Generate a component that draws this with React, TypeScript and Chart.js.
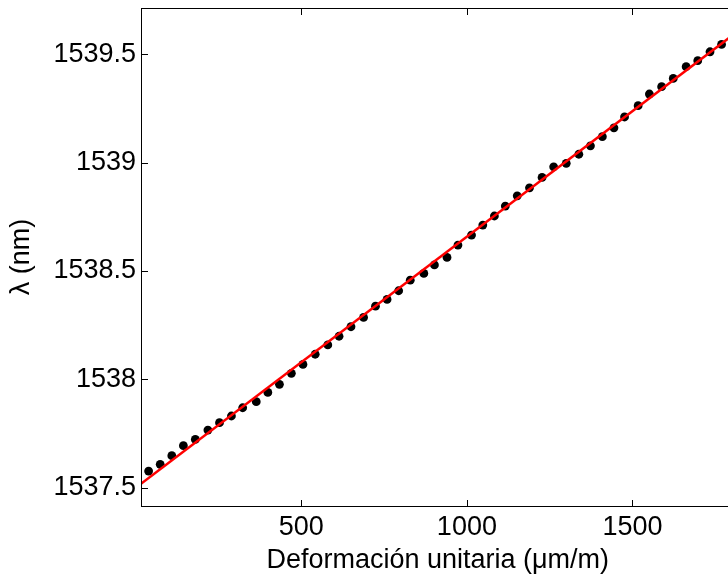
import React, { useEffect, useRef } from "react";
import { Chart, registerables } from "chart.js";

Chart.register(...registerables);

// Measured points: strain (µm/m) vs Bragg wavelength (nm)
const strainX = [39, 74, 109, 144, 180, 218, 253, 289, 323, 364, 399, 434, 470, 505, 542, 580, 614, 650, 688, 724, 759, 794, 829, 870, 902, 940, 973, 1014, 1048, 1083, 1116, 1152, 1189, 1227, 1262, 1300, 1338, 1373, 1409, 1444, 1476, 1517, 1551, 1588, 1623, 1662, 1697, 1734, 1769];
const lambdaY = [1537.577, 1537.608, 1537.648, 1537.694, 1537.723, 1537.766, 1537.8, 1537.831, 1537.869, 1537.897, 1537.94, 1537.977, 1538.028, 1538.069, 1538.116, 1538.159, 1538.199, 1538.243, 1538.286, 1538.338, 1538.369, 1538.409, 1538.458, 1538.489, 1538.528, 1538.563, 1538.62, 1538.666, 1538.712, 1538.754, 1538.8, 1538.847, 1538.884, 1538.932, 1538.981, 1538.997, 1539.039, 1539.078, 1539.12, 1539.161, 1539.211, 1539.263, 1539.317, 1539.351, 1539.389, 1539.443, 1539.471, 1539.512, 1539.546];

// Linear fit endpoints
const fitX = [16, 1808];
const fitY = [1537.518, 1539.595];

// Axes
const xRange = [16, 1808];
const yRange = [1537.4156, 1539.714];
const xTicks = [500, 1000, 1500];
const yTicks = [1537.5, 1538, 1538.5, 1539, 1539.5];

const xTitle = "Deformación unitaria (μm/m)";
const yTitle = "λ (nm)";

const FONT = "'Liberation Sans', Arial, sans-serif";
const CANVAS_W = 760;
const CANVAS_H = 577;

const framePlugin = {
  id: "matlabFrame",
  afterDraw(chart: any) {
    const { ctx, chartArea, scales } = chart;
    const { left, right, top, bottom } = chartArea;
    const tl = 6.5;
    ctx.save();
    ctx.strokeStyle = "#000";
    ctx.lineWidth = 1;
    ctx.strokeRect(left + 0.5, top + 0.5, right - left, bottom - top);
    ctx.beginPath();
    for (const v of xTicks) {
      const px = Math.round(scales.x.getPixelForValue(v)) + 0.5;
      ctx.moveTo(px, bottom + 0.5);
      ctx.lineTo(px, bottom + 0.5 - tl);
      ctx.moveTo(px, top + 0.5);
      ctx.lineTo(px, top + 0.5 + tl);
    }
    for (const v of yTicks) {
      const py = Math.round(scales.y.getPixelForValue(v)) + 0.5;
      ctx.moveTo(left + 0.5, py);
      ctx.lineTo(left + 0.5 + tl, py);
      ctx.moveTo(right + 0.5, py);
      ctx.lineTo(right + 0.5 - tl, py);
    }
    ctx.stroke();
    ctx.restore();
  },
};

export default function App() {
  const canvasRef = useRef<HTMLCanvasElement | null>(null);

  useEffect(() => {
    const canvas = canvasRef.current;
    if (!canvas) return;
    const points = strainX.map((x, i) => ({ x, y: lambdaY[i] }));
    const fit = fitX.map((x, i) => ({ x, y: fitY[i] }));
    const chart = new Chart(canvas, {
      type: "scatter",
      data: {
        datasets: [
          {
            data: fit,
            showLine: true,
            borderColor: "#ff0000",
            borderWidth: 2.5,
            pointRadius: 0,
            fill: false,
            order: 0,
          } as any,
          {
            data: points,
            pointRadius: 4.4,
            pointBackgroundColor: "#000",
            pointBorderColor: "#000",
            pointBorderWidth: 0,
            order: 1,
          } as any,
        ],
      },
      options: {
        animation: false,
        responsive: false,
        maintainAspectRatio: false,
        devicePixelRatio: 1,
        layout: { padding: { top: 8, left: 0, right: CANVAS_W - 734.5, bottom: 0 } },
        plugins: { legend: { display: false }, tooltip: { enabled: false } },
        scales: {
          x: {
            type: "linear",
            min: xRange[0],
            max: xRange[1],
            afterBuildTicks: (s: any) => {
              s.ticks = xTicks.map((v) => ({ value: v }));
            },
            afterFit: (s: any) => {
              s.height = CANVAS_H - 506;
              s.paddingLeft = 0;
              s.paddingRight = 0;
              s.paddingTop = 0;
              s.paddingBottom = 0;
            },
            grid: { display: false, drawTicks: false },
            border: { display: false },
            ticks: {
              color: "#000",
              font: { family: FONT, size: 27 },
              padding: 5,
              maxRotation: 0,
              autoSkip: false,
              callback: (v: any) => String(v),
            },
            title: {
              display: true,
              text: xTitle,
              color: "#000",
              font: { family: FONT, size: 27 },
              padding: { top: 0, bottom: 0 },
            },
          },
          y: {
            type: "linear",
            min: yRange[0],
            max: yRange[1],
            afterBuildTicks: (s: any) => {
              s.ticks = yTicks.map((v) => ({ value: v }));
            },
            afterFit: (s: any) => {
              s.width = 141;
              s.paddingLeft = 0;
              s.paddingRight = 0;
              s.paddingTop = 0;
              s.paddingBottom = 0;
            },
            grid: { display: false, drawTicks: false },
            border: { display: false },
            ticks: {
              color: "#000",
              font: { family: FONT, size: 27 },
              padding: 5,
              autoSkip: false,
              callback: (v: any) => String(v),
            },
            title: {
              display: true,
              text: yTitle,
              color: "#000",
              font: { family: FONT, size: 27 },
              padding: { top: 5, bottom: 0 },
            },
          },
        },
      },
      plugins: [framePlugin],
    });
    return () => chart.destroy();
  }, []);

  return (
    <div
      style={{
        position: "fixed",
        left: 0,
        top: 0,
        width: 728,
        height: 577,
        overflow: "hidden",
        background: "#fff",
      }}
    >
      <canvas
        ref={canvasRef}
        width={CANVAS_W}
        height={CANVAS_H}
        style={{ display: "block", width: CANVAS_W, height: CANVAS_H }}
      />
    </div>
  );
}
